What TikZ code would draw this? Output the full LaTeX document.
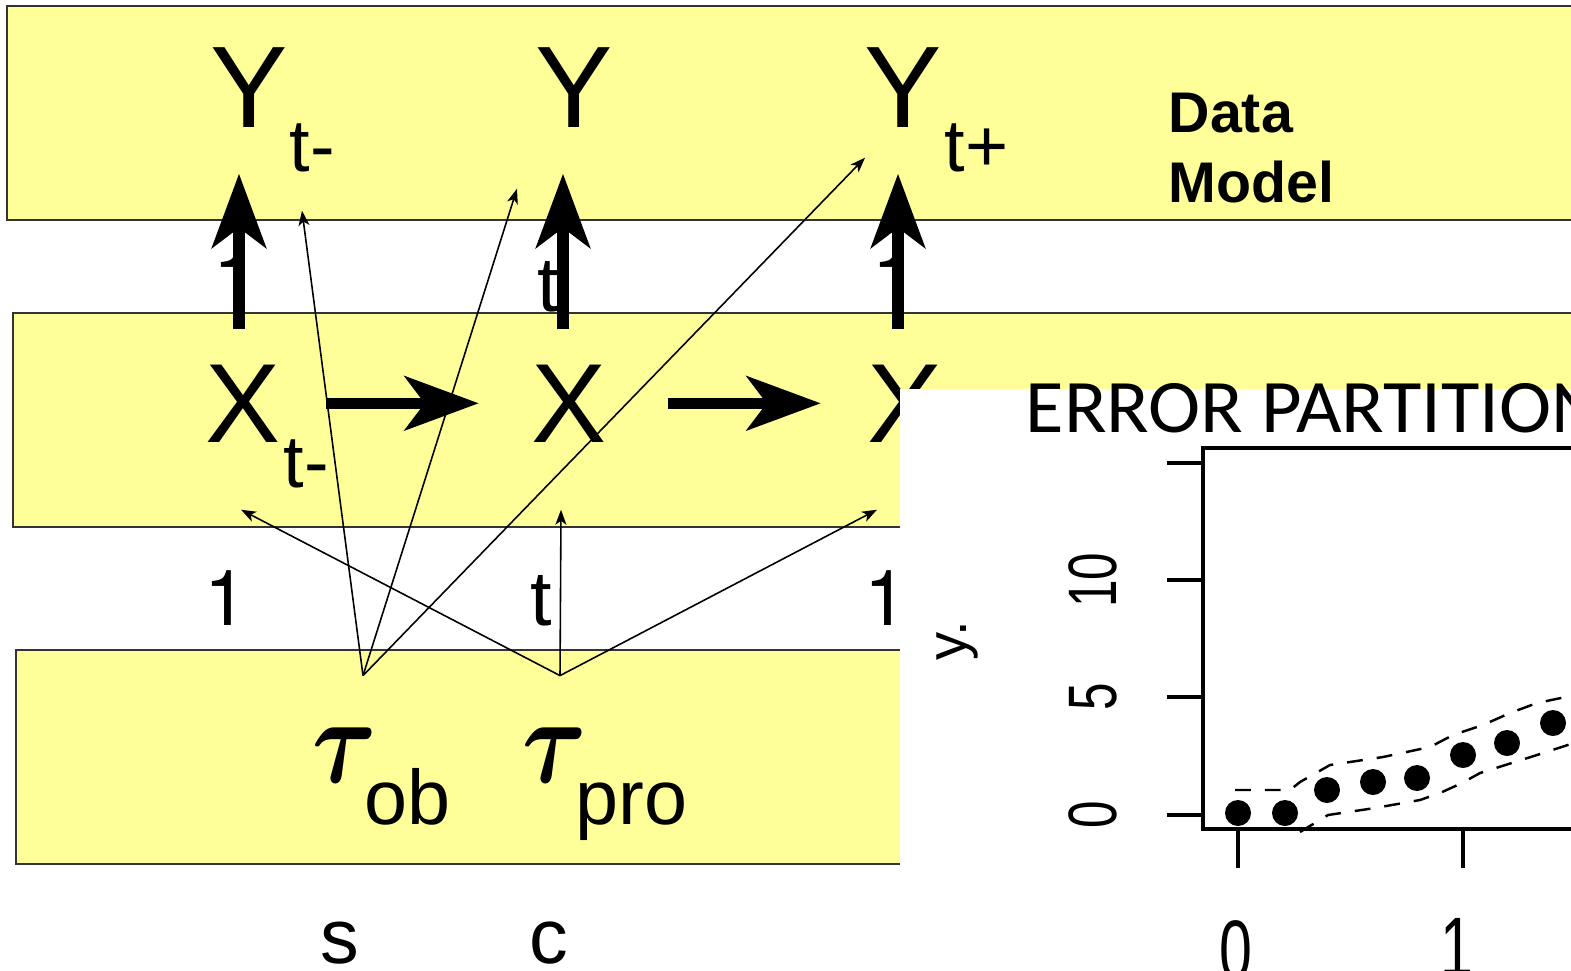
\RequirePackage{fix-cm}
\documentclass[tikz,border=0pt]{standalone}
\usepackage{fontspec}
\setmainfont{Liberation Sans}
\newfontfamily\carlito{Carlito}
\newfontfamily\heros{TeX Gyre Heros}
\usetikzlibrary{arrows.meta,calc}
\definecolor{bandyellow}{HTML}{FFFF99}
\tikzset{
  band/.style={draw=black!80, line width=0.6pt, fill=bandyellow},
  yvar/.style={inner sep=0pt, anchor=base, font=\fontsize{33}{36}\selectfont},
  xvar/.style={inner sep=0pt, anchor=base, font=\fontsize{32}{36}\selectfont},
  subtxt/.style={inner sep=0pt, anchor=base west, font=\fontsize{21}{24}\selectfont},
  idxtxt/.style={inner sep=0pt, anchor=base west, font=\fontsize{22}{26}\selectfont},
  onetxt/.style={idxtxt, font=\heros\fontsize{22}{26}\selectfont},
  taunode/.style={inner sep=0pt, anchor=base, font=\fontsize{35}{40}\selectfont\boldmath},
  bigarrow/.style={-{Stealth[length=7.4mm, width=5.4mm, inset=2mm]}, line width=3.2pt},
  thinarrow/.style={-{Stealth[length=1.5mm, width=1.1mm, inset=0.4mm]}, line width=0.45pt},
  axisline/.style={line width=0.9pt},
  bandlimit/.style={dash pattern=on 4.5pt off 4pt, line width=0.7pt},
  datadot/.style={circle, fill=black, inner sep=0pt, minimum size=2.6mm}
}

\begin{document}
\begin{tikzpicture}[x=0.01cm, y=-0.01cm]
  \useasboundingbox (0,0) rectangle (1571,970);
  % the three layers
  \draw[band] (7,6) rectangle (1585,220);
  \draw[band] (13,313) rectangle (1585,527);
  \draw[band] (16,650) rectangle (1585,864);

  % data model
  \node[yvar] (Ytm) at (249,128) {Y};
  \node[subtxt] (Ytm-sub) at (289,172) {t-};
  \node[yvar] (Yt) at (574,128) {Y};
  \node[yvar] (Ytp) at (903,128) {Y};
  \node[subtxt] (Ytp-sub) at (944,172) {t+};
  \node[font=\bfseries\fontsize{16.3}{20}\selectfont, align=left, inner sep=0pt, anchor=north west] (datamodel) at (1168,92) {Data\\Model};
  \node[onetxt] (Ytm-idx) at (213,306) {1};
  \node[idxtxt] (Yt-idx) at (537,311) {t};
  \node[onetxt] (Ytp-idx) at (872,306) {1};

  % process model
  \node[xvar] (Xtm) at (243,442) {X};
  \node[subtxt] (Xtm-sub) at (283,487) {t-};
  \node[xvar] (Xt) at (569,442) {X};
  \node[xvar] (Xtp) at (905,442) {X};
  \node[onetxt] (Xtm-idx) at (204,625) {1};
  \node[idxtxt] (Xt-idx) at (530,625) {t};
  \node[onetxt] (Xtp-idx) at (864,625) {1};

  % parameters
  \node[taunode] (tauob) at (345,782) {\scalebox{0.8}[1]{$\tau$}};
  \node[idxtxt] (tauob-sub) at (364,824) {ob};
  \node[taunode] (taupro) at (555,782) {\scalebox{0.8}[1]{$\tau$}};
  \node[idxtxt] (taupro-sub) at (575,824) {pro};
  \node[idxtxt] (lbl-s) at (320,963) {s};
  \node[idxtxt] (lbl-c) at (529,963) {c};

  \coordinate (ob-root) at ($(tauob.north)+(18,-51)$);
  \coordinate (pro-root) at ($(taupro.north)+(5,-51)$);
  \draw[thinarrow] (ob-root) -- ($(Ytm.south)+(53,82)$);
  \draw[thinarrow] (ob-root) -- ($(Yt.south)+(-57,60)$);
  \draw[thinarrow] (ob-root) -- ($(Ytp.south)+(-38,29)$);
  \draw[thinarrow] (pro-root) -- ($(Xtm.south)+(-2,67)$);
  \draw[thinarrow] (pro-root) -- ($(Xt.south)+(-8,67)$);
  \draw[thinarrow] (pro-root) -- ($(Xtp.south)+(-28,67)$);

  % X -> Y and X -> X
  \draw[bigarrow, shorten <=3.5mm, shorten >=4.5mm] ($(Xtm.north)+(-4,0)$) -- ($(Xtm.north |- Ytm.south)+(-4,0)$);
  \draw[bigarrow, shorten <=3.5mm, shorten >=4.5mm] ($(Xt.north)+(-6,0)$) -- ($(Xt.north |- Yt.south)+(-6,0)$);
  \draw[bigarrow, shorten <=3.5mm, shorten >=4.5mm] ($(Xtp.north)+(-7,0)$) -- ($(Xtp.north |- Ytp.south)+(-7,0)$);
  \draw[bigarrow, shorten <=4.5mm, shorten >=5.2mm] (Xtm.east) -- (Xt.west);
  \draw[bigarrow, shorten <=6.1mm, shorten >=4.6mm] (Xt.east) -- (Xtp.west);

  % error partition plot
  \fill[white] (900,389) rectangle (1571,970);
  \node[font=\carlito\fontsize{21.5}{24}\selectfont, inner sep=0pt, anchor=base west] (title) at (1025,432) {\scalebox{1.04}[1]{ERROR PARTITION}};
  \draw[axisline] (1585,448) -| (1203,829) -- (1585,829);
  \foreach \yy in {463,580,697,815}
    \draw[axisline] (1167,\yy) -- (1203,\yy);
  \foreach \lbl/\yy in {0/815,5/697,10/580}
    \node[rotate=90, inner sep=0pt, font=\fontsize{19.5}{21}\selectfont] (ytick-\lbl) at (1093,\yy) {\scalebox{0.72}[1]{\lbl}};
  \foreach \xx in {1238,1463}
    \draw[axisline] (\xx,829) -- (\xx,868);
  \node[anchor=north, inner sep=0pt, font=\fontsize{24}{26}\selectfont] (xtick-0) at (1236,920) {\scalebox{0.7}[1]{0}};
  \node[anchor=north, inner sep=0pt, font=\fontsize{24}{26}\selectfont] (xtick-1) at (1457,918) {\scalebox{0.7}[1]{1}};
  \node[rotate=90, inner sep=0pt, font=\fontsize{16}{18}\selectfont] (ylab) at (957,641) {y.};
  \draw[bandlimit] (1235,790) -- (1290,790) -- (1300,782) -- (1330,765) -- (1383,757) -- (1430,747) -- (1453,735) -- (1483,725) -- (1510,713) -- (1537,703) -- (1580,694);
  \draw[bandlimit] (1300,832) -- (1328,815) -- (1375,808) -- (1420,800) -- (1440,793) -- (1462,783) -- (1480,773) -- (1537,755) -- (1580,741);
  \foreach \px/\py [count=\i] in {1238/813,1285/813,1327/790,1373/782,1417/778,1463/755,1507/743,1553/723}
    \node[datadot] (obs\i) at (\px,\py) {};
\end{tikzpicture}
\end{document}
